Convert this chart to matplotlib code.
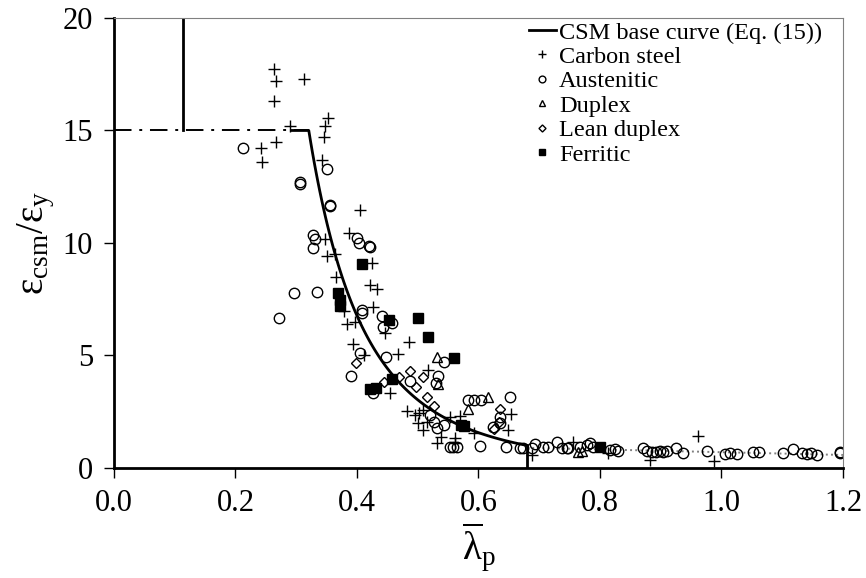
#-----------------------------------------------
# CSM base curve against test data
#-----------------------------------------------
import numpy as np
import matplotlib.pyplot as plt

plt.rcParams['font.family'] = ['Liberation Serif', 'DejaVu Serif']
plt.rcParams['mathtext.fontset'] = 'custom'
plt.rcParams['mathtext.rm'] = 'Liberation Serif'
plt.rcParams['mathtext.it'] = 'Liberation Serif'

#-----------------------------------------------
# Test results (plate slenderness, strain ratio)
#-----------------------------------------------
carbon_lam = [0.264, 0.266, 0.312, 0.264, 0.290, 0.352, 0.348, 0.345, 0.266, 0.242,
              0.244, 0.342, 0.405, 0.348, 0.387, 0.351, 0.364, 0.424, 0.365, 0.421,
              0.433, 0.378, 0.427, 0.383, 0.397, 0.394, 0.412, 0.446, 0.486, 0.468,
              0.517, 0.454, 0.482, 0.495, 0.502, 0.508, 0.501, 0.515, 0.508, 0.553,
              0.569, 0.592, 0.539, 0.531, 0.561, 0.561, 0.654, 0.649, 0.688, 0.756,
              0.814, 0.882, 0.962, 0.988]
carbon_eps = [17.73, 17.2, 17.29, 16.3, 15.2, 15.54, 15.2, 14.7, 14.5, 14.24,
              13.6, 13.7, 11.47, 10.19, 10.46, 9.42, 9.51, 9.12, 8.47, 8.13,
              7.95, 6.98, 7.15, 6.38, 6.5, 5.49, 5.0, 5.98, 5.59, 5.05,
              4.36, 3.34, 2.53, 2.36, 2.45, 2.58, 1.98, 2.06, 1.69, 2.28,
              2.33, 1.54, 1.39, 1.10, 1.35, 1.10, 2.4, 1.71, 0.6, 1.17,
              0.65, 0.36, 1.42, 0.33]

aust_lam = [0.212, 0.351, 0.306, 0.307, 0.356, 0.355, 0.327, 0.331, 0.327, 0.400,
            0.404, 0.420, 0.422, 0.296, 0.334, 0.271, 0.408, 0.408, 0.441, 0.457,
            0.443, 0.405, 0.448, 0.544, 0.390, 0.487, 0.534, 0.530, 0.427, 0.582,
            0.593, 0.604, 0.652, 0.636, 0.635, 0.624, 0.520, 0.526, 0.532, 0.544,
            0.553, 0.558, 0.564, 0.602, 0.646, 0.668, 0.673, 0.688, 0.693, 0.707,
            0.715, 0.729, 0.737, 0.745, 0.748, 0.767, 0.778, 0.784, 0.789, 0.816,
            0.825, 0.830, 0.871, 0.877, 0.885, 0.893, 0.899, 0.904, 0.910, 0.925,
            0.937, 0.977, 1.006, 1.014, 1.025, 1.052, 1.061, 1.102, 1.118, 1.132,
            1.140, 1.148, 1.157, 1.195, 1.195]
aust_eps = [14.2, 13.3, 12.64, 12.7, 11.64, 11.7, 10.34, 10.16, 9.78, 10.2,
            10.0, 9.87, 9.8, 7.76, 7.84, 6.65, 7.0, 6.88, 6.77, 6.46,
            6.25, 5.11, 4.92, 4.73, 4.07, 3.88, 4.09, 3.79, 3.34, 3.02,
            3.02, 3.02, 3.14, 2.25, 2.0, 1.82, 2.36, 2.06, 1.76, 1.91,
            0.95, 0.95, 0.95, 0.97, 0.95, 0.87, 0.87, 0.9, 1.05, 0.95,
            0.95, 1.15, 0.87, 0.87, 0.87, 0.95, 1.02, 1.1, 0.95, 0.80,
            0.83, 0.77, 0.87, 0.77, 0.73, 0.73, 0.77, 0.73, 0.77, 0.87,
            0.65, 0.77, 0.61, 0.65, 0.61, 0.73, 0.73, 0.65, 0.83, 0.65,
            0.61, 0.65, 0.58, 0.65, 0.7]

duplex_lam = [0.531, 0.534, 0.582, 0.616, 0.764, 0.770]
duplex_eps = [4.95, 3.75, 2.62, 3.17, 0.73, 0.75]

lean_lam = [0.398, 0.444, 0.470, 0.487, 0.508, 0.497, 0.516, 0.527, 0.636, 0.633, 0.626]
lean_eps = [4.68, 3.84, 4.06, 4.30, 4.06, 3.60, 3.16, 2.77, 2.63, 2.06, 1.72]

ferr_lam = [0.409, 0.369, 0.372, 0.372, 0.453, 0.501, 0.517, 0.560, 0.457, 0.421,
            0.432, 0.572, 0.576, 0.800]
ferr_eps = [9.08, 7.79, 7.47, 7.2, 6.56, 6.65, 5.84, 4.87, 3.97, 3.52,
            3.56, 1.90, 1.88, 0.95]

#-----------------------------------------------
# CSM base curve, Eq. (15): eps_csm/eps_y = 0.25 / lam^3.6, capped at 15
#-----------------------------------------------
eps_cap = 15.0
lam_limit = 0.68
lam_cap = (0.25 / eps_cap) ** (1 / 3.6)
lam_curve = np.concatenate([[0.292], np.linspace(lam_cap, lam_limit, 120)])
eps_curve = np.minimum(eps_cap, 0.25 / lam_curve ** 3.6)

# trend of the stocky end beyond the limit
trend_lam = [0.68, 1.2]
trend_eps = [0.90, 0.58]

#-----------------------------------------------
# Figure
#-----------------------------------------------
fig = plt.figure(figsize=(8.66, 5.78), dpi=100)
ax = fig.add_axes([0.1316, 0.1903, 0.8418, 0.7786])

ax.plot([0, lam_cap], [eps_cap, eps_cap], color="black", lw=1.4, dashes=(9, 4, 1.5, 4))
ax.plot([0.1136, 0.1136], [eps_cap, 20], color="black", lw=2)
ax.plot([lam_limit, lam_limit], [0, 1.0], color="black", lw=2)
ax.plot(trend_lam, trend_eps, color="gray", lw=1.4, ls=":")
ax.plot(lam_curve, eps_curve, color="black", lw=2, label="CSM base curve (Eq. (15))")

ax.plot(carbon_lam, carbon_eps, "+", color="black", ms=8, mew=1.0, label="Carbon steel")
ax.plot(aust_lam, aust_eps, "o", mfc="none", mec="black", ms=7.5, mew=1.0, label="Austenitic")
ax.plot(duplex_lam, duplex_eps, "^", mfc="none", mec="black", ms=7.5, mew=1.0, label="Duplex")
ax.plot(lean_lam, lean_eps, "D", mfc="none", mec="black", ms=5.5, mew=1.0, label="Lean duplex")
ax.plot(ferr_lam, ferr_eps, "s", color="black", ms=6.5, label="Ferritic")

#-----------------------------------------------
# Axes
#-----------------------------------------------
ax.set_xlim(0, 1.2)
ax.set_ylim(0, 20)
ax.set_xticks(np.arange(0, 1.21, 0.2))
ax.set_xticklabels(["0.0", "0.2", "0.4", "0.6", "0.8", "1.0", "1.2"])
ax.set_yticks([0, 5, 10, 15, 20])
ax.tick_params(direction="out", length=7, width=1, labelsize=22, pad=8)
ax.tick_params(top=False, right=False)
for s in ["left", "bottom"]:
    ax.spines[s].set_linewidth(2)
for s in ["top", "right"]:
    ax.spines[s].set_color("gray")
    ax.spines[s].set_linewidth(0.8)

ax.set_ylabel(r"$\mathrm{ε_{csm}/ε_{y}}$", fontsize=28, labelpad=4)
ax.set_xlabel(r"$\mathrm{\overline{λ}_{p}}$", fontsize=28, labelpad=2)

ax.legend(loc="upper right", bbox_to_anchor=(0.995, 1.03), frameon=False, fontsize=17.5,
          markerscale=0.65, handlelength=1.1, handletextpad=0.15, labelspacing=0.1,
          borderaxespad=0.3)

plt.savefig("out.png", dpi=100)
